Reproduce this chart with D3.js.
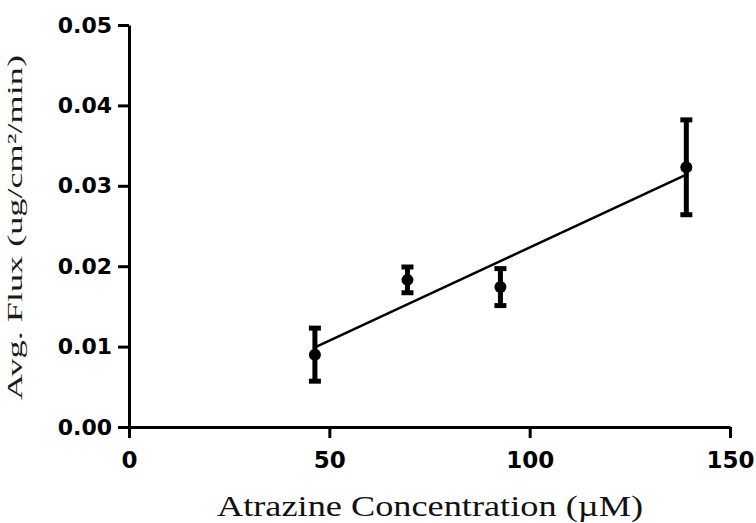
<!DOCTYPE html>
<html>
<head>
<meta charset="utf-8">
<script src="https://cdn.jsdelivr.net/npm/d3@7/dist/d3.min.js"></script>
<style>
  html, body { margin: 0; padding: 0; background: #fff; }
  svg { display: block; }
</style>
</head>
<body>
<svg id="chart" width="756" height="523"></svg>
<script>
// ---- data ----
const concentrations = [46.4, 69.5, 92.7, 139.1];          // µM
const fluxMeans      = [0.0090, 0.0183, 0.0174, 0.0323];   // ug/cm²/min
const fluxErrors     = [0.0033, 0.0016, 0.0023, 0.0059];
const fitX           = [46.4, 139.1];
const fitY           = [0.0099, 0.0314];
const xTicks         = [0, 50, 100, 150];
const yTicks         = [0.00, 0.01, 0.02, 0.03, 0.04, 0.05];
const xTitle = "Atrazine Concentration (µM)";
const yTitle = "Avg. Flux (ug/cm²/min)";

// ---- layout ----
const svg = d3.select("#chart");
const x = d3.scaleLinear().domain([0, 150]).range([129, 730]);
const y = d3.scaleLinear().domain([0, 0.05]).range([427, 25]);

const axisColor = "#000";

// x axis
const gx = svg.append("g").attr("transform", `translate(0,${y(0)})`)
  .call(d3.axisBottom(x).tickValues(xTicks).tickFormat(d3.format("d"))
        .tickSize(11).tickSizeOuter(0).tickPadding(14));
gx.select(".domain").attr("stroke", axisColor).attr("stroke-width", 3);
gx.selectAll(".tick line").attr("stroke", axisColor).attr("stroke-width", 3);
gx.selectAll(".tick text")
  .attr("font-family", "'DejaVu Sans', sans-serif")
  .attr("font-weight", "bold").attr("font-size", 23).attr("fill", "#000");

// y axis
const gy = svg.append("g").attr("transform", `translate(${x(0)},0)`)
  .call(d3.axisLeft(y).tickValues(yTicks).tickFormat(d3.format(".2f"))
        .tickSize(11).tickSizeOuter(0).tickPadding(6));
gy.select(".domain").attr("stroke", axisColor).attr("stroke-width", 3);
gy.selectAll(".tick line").attr("stroke", axisColor).attr("stroke-width", 3);
gy.selectAll(".tick text")
  .attr("font-family", "'DejaVu Sans', sans-serif")
  .attr("font-weight", "bold").attr("font-size", 22).attr("fill", "#000");

// fit line
svg.append("line")
  .attr("x1", x(fitX[0])).attr("y1", y(fitY[0]))
  .attr("x2", x(fitX[1])).attr("y2", y(fitY[1]))
  .attr("stroke", "#000").attr("stroke-width", 2.5);

// error bars + points
const data = concentrations.map((c, i) => ({ c, m: fluxMeans[i], e: fluxErrors[i] }));
const g = svg.append("g");
const capW = 6;
g.selectAll(".eb").data(data).join("line").attr("class", "eb")
  .attr("x1", d => x(d.c)).attr("x2", d => x(d.c))
  .attr("y1", d => y(d.m + d.e)).attr("y2", d => y(d.m - d.e))
  .attr("stroke", "#000").attr("stroke-width", 5);
g.selectAll(".capT").data(data).join("line").attr("class", "capT")
  .attr("x1", d => x(d.c) - capW).attr("x2", d => x(d.c) + capW)
  .attr("y1", d => y(d.m + d.e)).attr("y2", d => y(d.m + d.e))
  .attr("stroke", "#000").attr("stroke-width", 5);
g.selectAll(".capB").data(data).join("line").attr("class", "capB")
  .attr("x1", d => x(d.c) - capW).attr("x2", d => x(d.c) + capW)
  .attr("y1", d => y(d.m - d.e)).attr("y2", d => y(d.m - d.e))
  .attr("stroke", "#000").attr("stroke-width", 5);
g.selectAll(".pt").data(data).join("circle").attr("class", "pt")
  .attr("cx", d => x(d.c)).attr("cy", d => y(d.m)).attr("r", 6)
  .attr("fill", "#000");

// titles
svg.append("text")
  .attr("x", 217).attr("y", 516)
  .attr("font-family", "'Liberation Serif', 'Times New Roman', serif")
  .attr("font-size", 29).attr("fill", "#111")
  .attr("textLength", 426).attr("lengthAdjust", "spacingAndGlyphs")
  .text(xTitle);

svg.append("text")
  .attr("transform", "translate(22,400) rotate(-90)")
  .attr("x", 0).attr("y", 0)
  .attr("font-family", "'Liberation Serif', 'Times New Roman', serif")
  .attr("font-size", 21).attr("fill", "#1a1a1a")
  .attr("textLength", 345).attr("lengthAdjust", "spacingAndGlyphs")
  .text(yTitle);
</script>
</body>
</html>
